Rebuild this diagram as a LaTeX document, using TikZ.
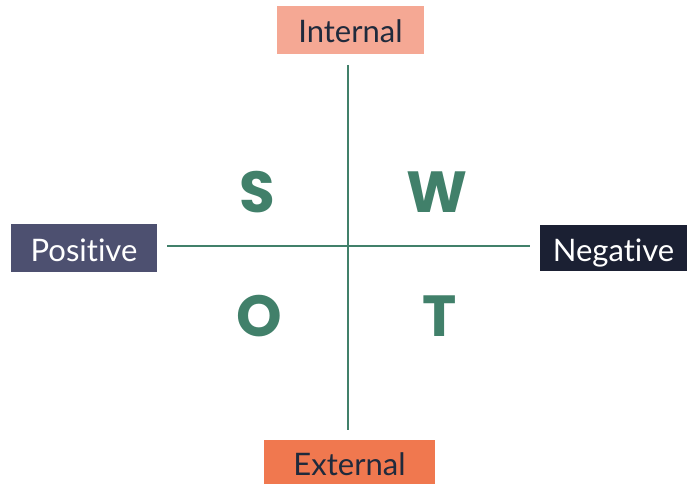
\documentclass[tikz,border=0pt]{standalone}
\usepackage{fontspec}
\setmainfont{Lato}[Ligatures={NoCommon}]
\newfontfamily\letterfont{Poppins}[UprightFont=* Bold]
\usepackage{xcolor}
\definecolor{swotGreen}{HTML}{41806A}
\definecolor{swotSalmon}{HTML}{F5A894}
\definecolor{swotOrange}{HTML}{F0784F}
\definecolor{swotSlate}{HTML}{4D5070}
\definecolor{swotNavy}{HTML}{1B2033}
\definecolor{swotInk}{HTML}{1F2A3C}
\usepackage{tikz}
\usetikzlibrary{positioning}

\begin{document}
\begin{tikzpicture}[x=1pt, y=-1pt,
        label box/.style={inner sep=0pt, text height=26pt, text depth=0pt, font=\fontsize{31}{34}\selectfont},
        quad letter/.style={text=swotGreen, font=\letterfont\fontsize{58}{60}\selectfont},
        axis/.style={swotGreen, line width=2.5pt}]
            \useasboundingbox (0,0) rectangle (688,484);
            % the four labels around the cross
            \node[label box, fill=swotSalmon, text=swotInk, minimum width=147pt, minimum height=48pt] (internal) at (350.5,30) {Internal};
            \node[label box, fill=swotOrange, text=swotInk, minimum width=171pt, minimum height=44pt] (external) at (349.5,462) {External};
            \node[label box, fill=swotSlate, text=white, minimum width=146pt, minimum height=48pt] (positive) at (84,248) {Positive};
            \node[label box, fill=swotNavy, text=white, minimum width=147pt, minimum height=46pt] (negative) at (613.5,248) {Negative};
            % axes
            \coordinate (top) at (348,65);
            \coordinate (bottom) at (348,430);
            \coordinate (left) at (167,246);
            \coordinate (right) at (530,246);
            \draw[axis] (top) -- (bottom);
            \draw[axis] (left) -- (right);
            % quadrant letters
            \node[quad letter] (s) at (257,192) {S};
            \node[quad letter] (w) at (437,192) {W};
            \node[quad letter] (o) at (259,316) {O};
            \node[quad letter] (t) at (440,316) {T};
        \end{tikzpicture}
\end{document}
